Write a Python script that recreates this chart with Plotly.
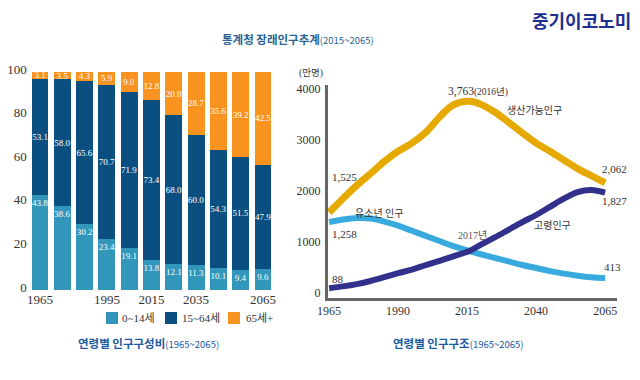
import plotly.graph_objects as go

# ---------------- data ----------------
bar_years = [1965, 1975, 1985, 1995, 2005, 2015, 2025, 2035, 2045, 2055, 2065]
young_pct = [43.8, 38.6, 30.2, 23.4, 19.1, 13.8, 12.1, 11.3, 10.1, 9.4, 9.6]
working_pct = [53.1, 58.0, 65.6, 70.7, 71.9, 73.4, 68.0, 60.0, 54.3, 51.5, 47.9]
old_pct = [3.1, 3.5, 4.3, 5.9, 9.0, 12.8, 20.0, 28.7, 35.6, 39.2, 42.5]
bar_names = ["0~14세", "15~64세", "65세+"]
bar_ticks = [1965, 1995, 2015, 2035, 2065]

line_years = [1965, 1970, 1975, 1980, 1985, 1990, 1995, 2000, 2005, 2010, 2016,
              2020, 2025, 2030, 2035, 2040, 2045, 2050, 2055, 2060, 2065]
working_pop = [1580, 1850, 2110, 2340, 2580, 2780, 2940, 3150, 3450, 3690, 3763,
               3700, 3550, 3350, 3140, 2940, 2780, 2610, 2440, 2300, 2160]
young_pop = [1390, 1440, 1470, 1460, 1400, 1320, 1220, 1120, 1020, 920, 820,
             760, 690, 620, 550, 490, 430, 380, 340, 310, 295]
old_pop = [95, 130, 175, 235, 310, 390, 460, 545, 630, 720, 830,
           950, 1090, 1240, 1390, 1530, 1690, 1850, 1980, 2020, 1970]
line_ticks_x = [1965, 1990, 2015, 2040, 2065]
line_ticks_y = [0, 1000, 2000, 3000, 4000]

C_YOUNG = "#3196b9"
C_WORK = "#0b4f80"
C_OLD = "#f8931f"
L_WORK = "#e6a900"
L_YOUNG = "#38aade"
L_OLD = "#31318c"
SERIF = "Liberation Serif, Noto Sans CJK KR, serif"
SANS = "Noto Sans CJK KR, Liberation Sans, sans-serif"


def px(x):
    return x / 640


def py(y):
    return 1 - y / 380


fig = go.Figure()

# ---------------- stacked bars ----------------
for vals, col, name, anchor in [
    (young_pct, C_YOUNG, bar_names[0], "end"),
    (working_pct, C_WORK, bar_names[1], "middle"),
    (old_pct, C_OLD, bar_names[2], "middle"),
]:
    fig.add_trace(go.Bar(
        x=bar_years, y=vals, name=name, marker=dict(color=col, line=dict(width=0)),
        texttemplate="%{y:.1f}", textposition="inside", insidetextanchor=anchor,
        textangle=0, constraintext="none",
        textfont=dict(color="white", size=9, family=SERIF),
        xaxis="x", yaxis="y", showlegend=False,
    ))

# ---------------- lines ----------------
for vals, col, w in [(working_pop, L_WORK, 7), (young_pop, L_YOUNG, 6), (old_pop, L_OLD, 6)]:
    fig.add_trace(go.Scatter(
        x=line_years, y=vals, mode="lines",
        line=dict(color=col, width=w, shape="spline", smoothing=1.0),
        xaxis="x2", yaxis="y2", showlegend=False, hoverinfo="skip",
    ))

fig.update_layout(
    width=640, height=380,
    margin=dict(l=0, r=0, t=0, b=0, autoexpand=False),
    paper_bgcolor="white", plot_bgcolor="white",
    barmode="stack", bargap=0.24,
    showlegend=False,
    xaxis=dict(domain=[px(28.85), px(274.15)], range=[1960, 2070], automargin=False,
               tickvals=bar_ticks, showgrid=False, zeroline=False, showline=False,
               tickfont=dict(family=SERIF, size=13, color="#333"), anchor="y"),
    yaxis=dict(domain=[py(290), py(72)], range=[0, 100], tickvals=[0, 20, 40, 60, 80, 100],
               showgrid=False, zeroline=False, showline=False, ticklabelstandoff=1,
               ticklabelshift=-3, automargin=False,
               tickfont=dict(family=SERIF, size=13, color="#333"), anchor="x"),
    xaxis2=dict(domain=[px(328), px(617)], range=[1964.6, 2069.3], tickvals=line_ticks_x,
                showgrid=False, zeroline=False, showline=True, linewidth=3, linecolor="#666",
                automargin=False,
                tickfont=dict(family=SERIF, size=12, color="#333"), anchor="y2"),
    yaxis2=dict(domain=[py(298), py(85)], range=[-98, 4080], tickvals=line_ticks_y,
                showgrid=False, zeroline=False, showline=True, linewidth=3, linecolor="#666",
                ticklabelstandoff=2, automargin=False,
                tickfont=dict(family=SERIF, size=12, color="#333"), anchor="x2"),
)

# ---------------- legend (manual) ----------------
legend_items = [(106, 120, C_YOUNG, bar_names[0]), (165, 180, C_WORK, bar_names[1]),
                (228, 244, C_OLD, bar_names[2])]
for sx, tx, col, name in legend_items:
    fig.add_shape(type="rect", xref="paper", yref="paper",
                  x0=px(sx), x1=px(sx + 12), y0=py(324), y1=py(312),
                  fillcolor=col, line=dict(width=0))
    fig.add_annotation(xref="paper", yref="paper", x=px(tx), y=py(318),
                       xanchor="left", yanchor="middle", showarrow=False, text=name,
                       font=dict(family=SERIF, size=11, color="#333"))

# ---------------- texts ----------------
def ann(x, y, text, size=11, color="#333", family=SERIF, xanchor="center"):
    fig.add_annotation(xref="paper", yref="paper", x=px(x), y=py(y), text=text,
                       showarrow=False, xanchor=xanchor, yanchor="middle",
                       font=dict(family=family, size=size, color=color))

ann(220, 39, "<b>통계청 장래인구추계</b><span style='font-size:9.5px'>(2015~2065)</span>",
    size=11.5, color="#2a6592", family=SANS, xanchor="left")
ann(633, 20, "<b>중기이코노미</b>", size=18, color="#1f2f8f", family=SANS, xanchor="right")
ann(148, 343, "<b>연령별 인구구성비</b><span style='font-size:9.5px'>(1965~2065)</span>",
    size=11.5, color="#1d5b9e", family=SANS)
ann(458, 343, "<b>연령별 인구구조</b><span style='font-size:9.5px'>(1965~2065)</span>",
    size=11.5, color="#1d5b9e", family=SANS)

ann(311, 74, "(만명)", size=9.5)
ann(330, 177, "1,525", xanchor="left")
ann(446, 92, "3,763<span style='font-size:9.5px'>(2016년)</span>", size=11.5, xanchor="left")
ann(534, 110, "생산가능인구", size=10)
ann(614, 169, "2,062")
ann(614, 201, "1,827")
ann(379, 213, "유소년 인구", size=10)
ann(330, 234, "1,258", xanchor="left")
ann(472, 235, "2017년", size=10, color="#555")
ann(552, 226, "고령인구", size=10)
ann(612, 267, "413")
ann(330, 279, "88", xanchor="left")

fig.write_html("out.html", config={"displayModeBar": False},
               post_script="document.body.style.margin='0';")
